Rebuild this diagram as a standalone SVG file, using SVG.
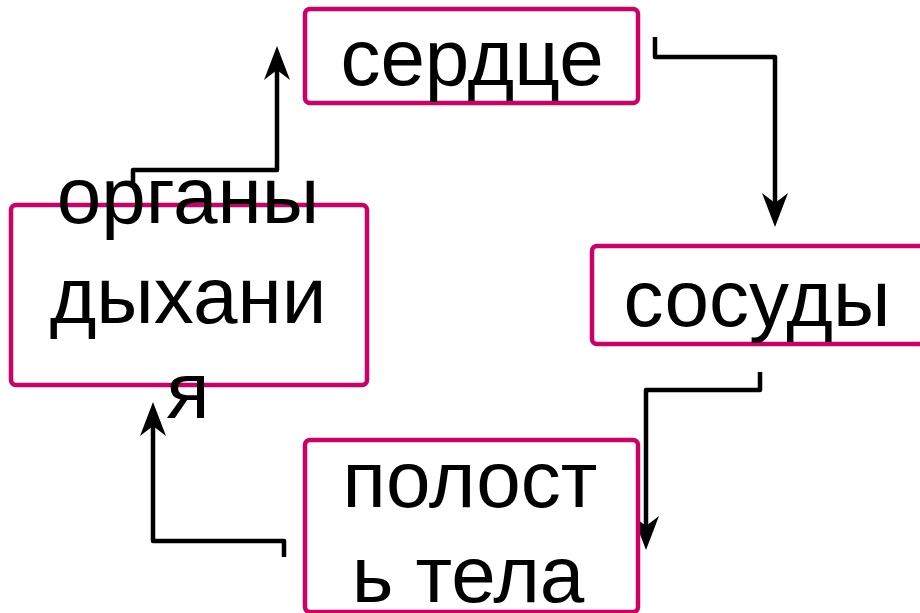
<svg xmlns="http://www.w3.org/2000/svg" width="920" height="613" viewBox="0 0 920 613">
<style>
.box{fill:#fff;stroke:#CC0066;stroke-width:4.5}
.t{font-family:"Liberation Sans",Arial,sans-serif;font-size:80px;fill:#000;text-anchor:middle}
.c{fill:none;stroke:#000;stroke-width:4.5;stroke-linejoin:round}
</style>
<defs>
<marker id="ah" markerUnits="userSpaceOnUse" markerWidth="40" markerHeight="30" viewBox="-12 -14 40 28" refX="0" refY="0" orient="auto" overflow="visible">
<path d="M24,0 L-10,-13 L0,0 L-10,13 Z" fill="#000"/>
</marker>
</defs>
<g id="connectors">
<path class="c" d="M133,185 V170 H277 V70" marker-end="url(#ah)"/>
<path class="c" d="M655,37 V57 H775 V203" marker-end="url(#ah)"/>
<path class="c" d="M760,372 V390 H646 V526" marker-end="url(#ah)"/>
<path class="c" d="M284,557 V541 H153 V426" marker-end="url(#ah)"/>
</g>
<g id="heart">
<rect class="box" x="305" y="9" width="333" height="94" rx="5"/>
<text class="t" x="472" y="85">сердце</text>
</g>
<g id="vessels">
<rect class="box" x="592" y="246" width="340" height="98" rx="5"/>
<text class="t" x="757" y="326">сосуды</text>
</g>
<g id="cavity">
<rect class="box" x="305" y="440" width="333" height="172" rx="5"/>
<text class="t" x="470" y="507">полост</text>
<text class="t" x="468" y="602">ь тела</text>
</g>
<g id="lungs">
<rect class="box" x="11" y="205" width="356" height="180" rx="5"/>
<text class="t" x="188" y="223">органы</text>
<text class="t" x="188" y="323">дыхани</text>
<text class="t" x="188" y="418">я</text>
</g>
</svg>
